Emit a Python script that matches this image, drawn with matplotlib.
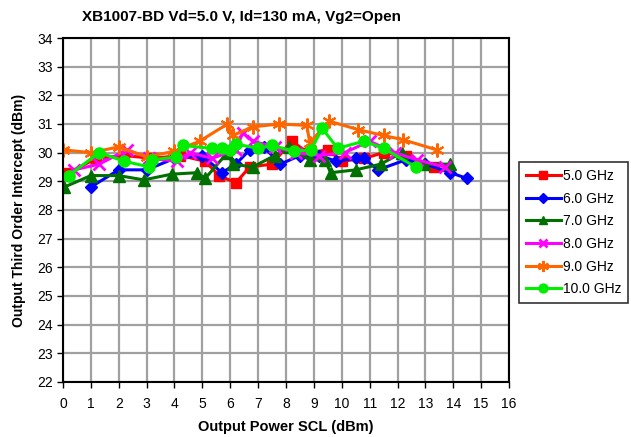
import matplotlib
matplotlib.use("Agg")
import matplotlib.pyplot as plt

plt.rcParams['font.family'] = ['Liberation Sans', 'DejaVu Sans']

title = "XB1007-BD Vd=5.0 V, Id=130 mA, Vg2=Open"
xlabel = "Output Power SCL (dBm)"
ylabel = "Output Third Order Intercept (dBm)"

x5 = [0.2, 1.2, 2.2, 3.2, 4.2, 5.1, 5.6, 6.2, 6.7, 7.5, 8.2, 8.8, 9.5, 10.0, 10.8, 11.5, 12.3, 13.3]
y5 = [29.3, 29.8, 29.9, 29.8, 29.9, 29.7, 29.2, 28.95, 29.5, 29.6, 30.4, 30.0, 30.1, 29.7, 29.8, 30.0, 29.9, 29.5]

x6 = [1.0, 2.0, 3.0, 4.0, 5.0, 5.7, 6.2, 6.7, 7.2, 7.8, 8.5, 9.2, 9.8, 10.5, 10.8, 11.3, 12.3, 13.0, 13.9, 14.5]
y6 = [28.8, 29.4, 29.4, 29.8, 29.9, 29.3, 29.6, 30.1, 30.2, 29.6, 29.9, 29.9, 29.7, 29.8, 29.8, 29.4, 29.75, 29.6, 29.3, 29.1]

x7 = [0.05, 1.0, 2.0, 2.9, 3.9, 4.8, 5.1, 5.9, 6.1, 6.8, 7.6, 8.1, 8.85, 9.4, 9.6, 10.5, 11.4, 12.15, 12.95, 13.9]
y7 = [28.8, 29.2, 29.2, 29.05, 29.25, 29.3, 29.1, 30.0, 29.6, 29.5, 29.9, 30.2, 29.75, 29.75, 29.3, 29.4, 29.6, 30.0, 29.6, 29.6]

x8 = [0.1, 0.4, 1.3, 2.3, 3.1, 4.1, 4.55, 5.35, 6.2, 6.45, 6.8, 7.6, 8.35, 9.2, 10.1, 11.0, 11.9, 12.7, 13.7]
y8 = [29.2, 29.4, 29.6, 30.1, 29.8, 29.7, 30.0, 29.8, 30.1, 30.7, 30.4, 30.2, 30.0, 29.9, 30.0, 30.4, 30.0, 29.75, 29.5]

x9 = [0.0, 1.0, 2.0, 3.0, 4.0, 4.9, 5.9, 6.1, 6.8, 7.75, 8.75, 8.85, 9.55, 10.6, 11.5, 12.2, 13.4]
y9 = [30.1, 30.0, 30.2, 29.85, 30.05, 30.4, 31.0, 30.6, 30.9, 31.0, 30.95, 30.35, 31.1, 30.8, 30.6, 30.45, 30.1]

x10 = [0.2, 1.3, 2.2, 3.1, 3.2, 4.05, 4.3, 5.35, 5.7, 6.0, 6.2, 7.0, 7.5, 8.3, 8.9, 9.3, 9.85, 10.8, 11.5, 12.65]
y10 = [29.2, 30.0, 29.7, 29.5, 29.75, 29.85, 30.25, 30.15, 30.15, 30.1, 30.3, 30.15, 30.25, 30.05, 30.1, 30.85, 30.15, 30.4, 30.15, 29.5]

labels = ["5.0 GHz", "6.0 GHz", "7.0 GHz", "8.0 GHz", "9.0 GHz", "10.0 GHz"]
xticks = list(range(0, 17))
yticks = list(range(22, 35))

fig = plt.figure(figsize=(6.31, 4.37), dpi=100)
ax = fig.add_axes([0.0998, 0.126, 0.7069, 0.787])

series = [
    (x5, y5, '#ff0000', 's', 7, 1.0),
    (x6, y6, '#0000ff', 'D', 6, 1.0),
    (x7, y7, '#007000', '^', 8, 1.0),
    (x8, y8, '#ff00ff', 'x', 8, 2.0),
    (x9, y9, '#ff6600', (6, 2, 0), 10, 1.5),
    (x10, y10, '#00ee00', 'o', 8, 1.0),
]
handles = []
for (xs, ys, c, m, ms, mew), lab in zip(series, labels):
    h, = ax.plot(xs, ys, color=c, marker=m, markersize=ms, markeredgewidth=mew,
                 markeredgecolor=c, markerfacecolor=c, linewidth=2.2, label=lab)
    handles.append(h)

ax.set_xlim(0, 16)
ax.set_ylim(22, 34)
ax.set_xticks(xticks)
ax.set_yticks(yticks)
ax.grid(True, color='#a0a0a0', linewidth=1.6)
ax.set_axisbelow(True)
for s in ax.spines.values():
    s.set_linewidth(1.5)
    s.set_color('black')
ax.tick_params(direction='out', length=4, width=1, labelsize=10)
ax.tick_params(axis='x', pad=7)

ax.set_xlabel(xlabel, fontsize=10.5, fontweight='bold', labelpad=6)
ax.set_ylabel(ylabel, fontsize=10, fontweight='bold', labelpad=8)
fig.text(0.382, 0.962, title, ha='center', va='center', fontsize=11, fontweight='bold')

leg = fig.legend(handles=handles, loc='upper left', bbox_to_anchor=(0.8225, 0.629),
                 frameon=True, fancybox=False, edgecolor='black', fontsize=10,
                 handlelength=2.5, handletextpad=0.15, labelspacing=0.62, borderpad=0.5,
                 borderaxespad=0, markerscale=0.8)
leg.get_frame().set_linewidth(1.2)

fig.savefig("out.png", dpi=100)
